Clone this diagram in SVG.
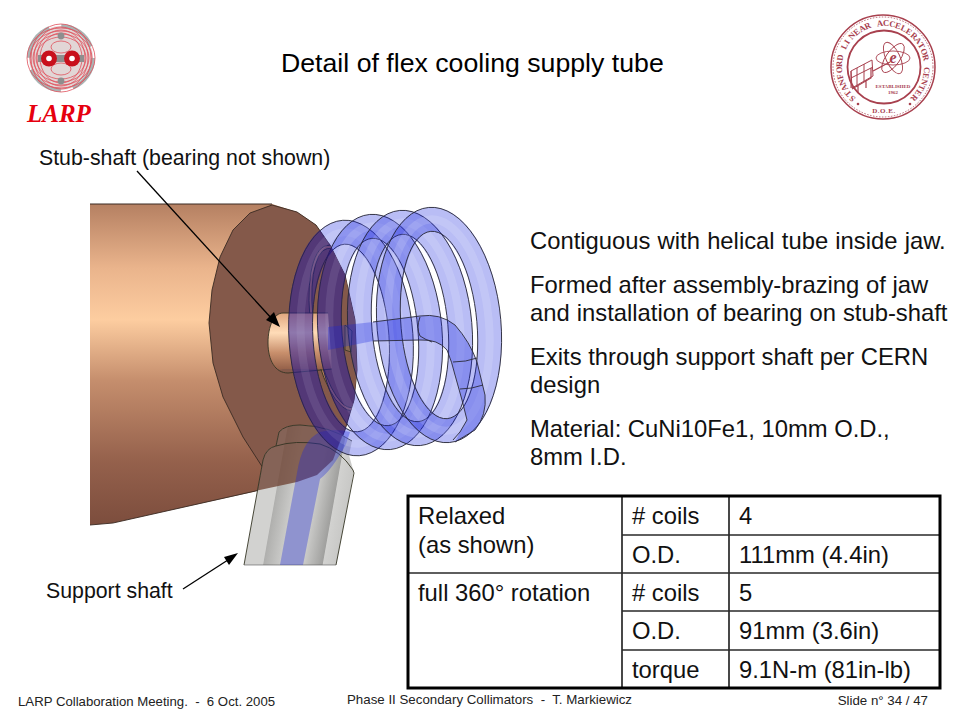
<svg xmlns="http://www.w3.org/2000/svg" xmlns:xlink="http://www.w3.org/1999/xlink" width="960" height="720" viewBox="0 0 960 720">
<style>
text{font-family:"Liberation Sans",Arial,sans-serif;fill:#000;white-space:pre}
.b{font-size:23.8px;fill:#111}
.l{font-size:21.3px;fill:#111}
.f{font-size:13.3px;fill:#222}
.o{fill:none;stroke:#2a2a3a;stroke-width:.9}
.tube{fill:none;stroke:#1824df;stroke-opacity:.3}
.hi{fill:none;stroke:#fff;stroke-opacity:.14;stroke-width:8}
.e{fill:none;stroke:#332;stroke-width:.9}
.sr{fill:none;stroke:#a8404e}
.c{fill:none;stroke:#e0505c;stroke-width:.8}
.grid{stroke:#2a2a2a;stroke-width:1.7;fill:none}
.seal{font-family:"Liberation Serif",serif;fill:#a8404e;font-weight:bold}
.dk{fill:none;stroke:#30107a;stroke-opacity:.3;stroke-width:24}
</style>
<defs>
<linearGradient id="cyl" gradientUnits="userSpaceOnUse" x1="0" y1="204" x2="0" y2="525">
<stop offset="0" stop-color="#b58062"/><stop offset=".2" stop-color="#eab48c"/><stop offset=".36" stop-color="#fdcda0"/><stop offset=".55" stop-color="#c58e6d"/><stop offset=".8" stop-color="#95614c"/><stop offset="1" stop-color="#7c4d3d"/>
</linearGradient>
<linearGradient id="stub" x1="0" y1="0" x2="0" y2="1">
<stop offset="0" stop-color="#e0a67e"/><stop offset=".35" stop-color="#ffdcb8"/><stop offset=".7" stop-color="#c88f6c"/><stop offset="1" stop-color="#946049"/>
</linearGradient>
<linearGradient id="sh" gradientUnits="userSpaceOnUse" x1="244" y1="0" x2="337" y2="0">
<stop offset="0" stop-color="#d2d2d0"/><stop offset=".2" stop-color="#d2d2d0"/><stop offset=".21" stop-color="#b0b0ae"/><stop offset=".39" stop-color="#cacac8"/><stop offset=".64" stop-color="#cacac8"/><stop offset=".84" stop-color="#a0a09e"/><stop offset=".85" stop-color="#d2d2d0"/><stop offset="1" stop-color="#c8c8c6"/>
</linearGradient>
<clipPath id="shaftClip"><path d="M244,565L263,460Q266,448 276,446L279,432Q285,425 300,425Q330,426 352,441L349,455L354,473L336,565Z"/></clipPath>
<clipPath id="diskClip"><path id="d" d="M272,205L250,213L233,230L220,257L212,290L209,323L213,363L223,397L243,437L263,468L271,487L297,482L317,475L333,460L345,430L354,400L357,370L355,320L345,275L330,245L316,225L297,212Z"/></clipPath>
<g id="coil">
<ellipse class="tube" rx="50" ry="106" stroke-width="24"/>
<ellipse class="hi" rx="50" ry="106"/>
<ellipse class="o" rx="62" ry="118"/>
<ellipse class="o" rx="38" ry="94"/>
</g>
</defs>
<rect width="960" height="720" fill="#fff"/>

<g id="logo-larp">
<circle cx="61" cy="58" r="32" fill="#e2d6d6" stroke="#a9b4b4" stroke-width="4" stroke-dasharray="38 12.300"/>
<ellipse class="c" cx="61" cy="58" rx="34" ry="30"/><ellipse class="c" cx="61" cy="58" rx="30" ry="34"/>
<ellipse class="c" cx="61" cy="58" rx="31" ry="27"/><ellipse class="c" cx="61" cy="58" rx="27" ry="31"/>
<ellipse class="c" cx="61" cy="58" rx="28" ry="24"/><ellipse class="c" cx="61" cy="58" rx="24" ry="28"/>
<ellipse class="c" cx="61" cy="58" rx="25" ry="21"/><ellipse class="c" cx="61" cy="58" rx="21" ry="25"/>
<ellipse class="c" cx="61" cy="47" rx="10" ry="6"/><ellipse class="c" cx="61" cy="69" rx="10" ry="6"/>
<circle cx="61" cy="36" r="3.400" fill="#8e8e8e"/><circle cx="61" cy="81" r="3.400" fill="#8e8e8e"/>
<rect x="38" y="55" width="46" height="7" fill="#8e8e8e"/>
<circle cx="49" cy="58.500" r="8" fill="#c8101c"/><circle cx="72" cy="58.500" r="8" fill="#c8101c"/>
<circle cx="49" cy="58.500" r="2.800" fill="#fff"/><circle cx="72" cy="58.500" r="2.800" fill="#fff"/>
<text x="27" y="122" style="font-family:'Liberation Serif',serif;font-weight:bold;font-style:italic;font-size:25px;fill:#e6000f">LARP</text>
</g>

<g id="logo-slac">
<circle class="sr" cx="883" cy="67" r="52" stroke-width="1.500"/>
<circle class="sr" cx="883" cy="67" r="50" stroke-width=".8" stroke-dasharray="1.500 1.500"/>
<circle class="sr" cx="884" cy="67" r="36.500" stroke-width="1.800"/>
<text class="seal" font-size="8.500" x="856.1 852 848.5 845.7 843.6 842.4 842 842.4 843.7 845.7 848.5 852 856.2 860.9 866 871.5 877.2 883 888.9 894.6 900 905.1 909.9 914 917.5 920.3 922.3 923.6 924 923.6 922.4 920.3 917.5 914" y="98 93.800 89.100 84 78.500 72.800 66.900 61.100 55.400 49.900 44.800 40.100 36 32.500 29.700 27.600 26.400 26 26.400 27.700 29.700 32.500 36 40.100 44.800 49.900 55.400 61.100 66.900 72.800 78.500 83.900 89.100 93.800" rotate="-139 -130.800 -122.600 -114.500 -106.300 -98.100 -89.900 -81.700 -73.600 -65.400 -57.200 -49 -40.800 -32.700 -24.500 -16.300 -8.100 0 8.200 16.400 24.500 32.700 40.900 49.100 57.200 65.400 73.600 81.700 89.900 98.100 106.300 114.400 122.600 130.800">STANFORD LINEAR ACCELERATOR CENTER</text>
<text class="seal" x="884" y="113" font-size="7" text-anchor="middle" letter-spacing=".5">D.O.E.</text>
<circle cx="858" cy="104" r="1.300" fill="#a8404e"/><circle cx="910" cy="104" r="1.300" fill="#a8404e"/>
<g transform="translate(893 58)">
<ellipse class="sr" rx="7" ry="17" stroke-width=".9" transform="rotate(-25)"/>
<ellipse class="sr" rx="7" ry="17" stroke-width=".9" transform="rotate(35)"/>
<ellipse class="sr" rx="7" ry="17" stroke-width=".9" transform="rotate(90)"/>
</g>
<text class="seal" x="893" y="63" font-size="16" font-style="italic" text-anchor="middle">e</text>
<path class="sr" stroke-width="1" d="M851,71L872,60L873,76L852,88ZM851,71V88M857,68V85M864,64V81M851,78L873,67"/>
<path class="sr" stroke-width="1.200" d="M852,89L871,78V68M858,85V93M866,80V88M873,71L890,62"/>
<text class="seal" x="893" y="88" font-size="5" text-anchor="middle">ESTABLISHED</text>
<text class="seal" x="893" y="94" font-size="5" text-anchor="middle">1962</text>
</g>

<text id="title" x="281" y="72" style="font-size:26.700px">Detail of flex cooling supply tube</text>

<g id="model">
<path d="M90,204H272L297,212L316,225L330,245L345,275L355,320L357,370L354,400L345,430L333,460L317,475L297,482L113,523L90,525Z" fill="url(#cyl)"/>
<path d="M90,525L113,523L260,490" fill="none" stroke="#3a2a22" stroke-width=".9"/>
<path d="M90,204H272" stroke="#3a2a22" stroke-width="1" fill="none"/>
<use xlink:href="#d" href="#d" fill="#84594a" stroke="#3a2a22" stroke-width=".9"/>
<g clip-path="url(#diskClip)">
<ellipse cx="340" cy="328" rx="27" ry="82" transform="rotate(-9 340 328)" fill="#84594a" stroke="#b98058" stroke-width="3"/>
<ellipse cx="340" cy="328" rx="28.500" ry="83.500" transform="rotate(-9 340 328)" class="e"/>
<ellipse cx="340" cy="328" rx="25.500" ry="80.500" transform="rotate(-9 340 328)" class="e"/>
</g>
<path d="M283,313H328L332,369H283C275,373 268,360 268,343C268,326 274,313 283,313Z" fill="url(#stub)"/>
<path d="M328,313H283C274,313 268,326 268,343C268,360 275,373 288,373L332,369" class="e"/>
<path d="M345,325L352,331L351,352L345,350Z" fill="#8a6a55" stroke="#332" stroke-width=".8"/>

<g id="shaft" clip-path="url(#shaftClip)">
<rect x="244" y="425" width="93" height="140" fill="url(#sh)" transform="translate(0 565) skewX(-10.080) translate(0 -565)"/>
<path d="M250,425H346L333,460L317,475L297,482L255,491Z" fill="#6f4434" fill-opacity=".78"/>
</g>
<path d="M244,565L263,460Q266,448 276,446Q295,440 320,444Q340,450 353,470L354,473L336,565" class="e"/>
<path d="M276,446L279,432Q285,425 300,425Q330,426 352,441" class="e"/>
<path d="M244,565H336" stroke="#555" stroke-width=".6"/>
<path d="M280,565L291,505L297,473Q302,440 320,432Q335,428 350,432L346,444Q332,470 320,479L303,565Z" fill="#1824df" fill-opacity=".33"/>

<use xlink:href="#coil" href="#coil" transform="translate(351 338) rotate(-4)"/>
<use xlink:href="#coil" href="#coil" transform="translate(380 332) rotate(-5)"/>
<use xlink:href="#coil" href="#coil" transform="translate(410 328) rotate(-5)"/>
<use xlink:href="#coil" href="#coil" transform="translate(439 325) rotate(-5)"/>
<g clip-path="url(#diskClip)">
<ellipse class="dk" rx="50" ry="106" transform="translate(351 338) rotate(-4)"/>
<ellipse class="dk" rx="50" ry="106" transform="translate(380 332) rotate(-5)"/>
</g>

<path d="M328,327L373,322L420,316Q440,313 455,325Q470,342 477,362L485,395Q487,415 475,430L455,442L460,432L467,420L462,400L455,375Q452,362 447,350Q438,339 420,340L373,341L328,350Z" fill="#1824df" fill-opacity=".3"/>
<path class="o" d="M373,322L420,316Q440,313 455,325Q470,342 477,362L485,395Q487,415 475,430L455,442"/>
<path class="o" d="M373,341L420,340Q438,339 447,350Q452,362 455,375L462,400L467,420L460,432L453,440"/>
<path class="o" d="M420,317Q416,328 420,336Q426,340 432,342M453,362Q466,362 477,358M460,389Q472,389 483,385"/>
</g>

<g id="connectors" fill="#000" stroke="#000">
<path d="M137,171L273,320" stroke-width="1.300" fill="none"/>
<path d="M280,327L266,320L274,312Z" stroke="none"/>
<path d="M183,589L231,558" stroke-width="1.300" fill="none"/>
<path d="M238,553L229,565L224,557Z" stroke="none"/>
</g>
<text class="l" x="39" y="165">Stub-shaft (bearing not shown)</text>
<text class="l" x="46" y="598">Support shaft</text>

<g id="notes">
<text class="b" x="530" y="249" word-spacing=".6">Contiguous with helical tube inside jaw.</text>
<text class="b" x="530" y="293">Formed after assembly-brazing of jaw</text>
<text class="b" x="530" y="321" word-spacing=".4">and installation of bearing on stub-shaft</text>
<text class="b" x="530" y="365">Exits through support shaft per CERN</text>
<text class="b" x="530" y="393">design</text>
<text class="b" x="530" y="437">Material: CuNi10Fe1, 10mm O.D.,</text>
<text class="b" x="530" y="465">8mm I.D.</text>
</g>

<g id="table">
<rect x="408" y="496" width="532" height="192" fill="#fff"/>
<path class="grid" d="M622,496V688M729,496V688M622,535H940M408,573H940M622,611H940M622,650H940"/>
<rect x="408" y="496" width="532" height="192" fill="none" stroke="#000" stroke-width="3"/>
<text class="b" x="418" y="524">Relaxed</text>
<text class="b" x="418" y="553">(as shown)</text>
<text class="b" x="632" y="524"># coils</text>
<text class="b" x="739" y="524">4</text>
<text class="b" x="632" y="563">O.D.</text>
<text class="b" x="739" y="563">111mm (4.4in)</text>
<text class="b" x="418" y="601">full 360° rotation</text>
<text class="b" x="632" y="601"># coils</text>
<text class="b" x="739" y="601">5</text>
<text class="b" x="632" y="639">O.D.</text>
<text class="b" x="739" y="639">91mm (3.6in)</text>
<text class="b" x="632" y="678">torque</text>
<text class="b" x="739" y="678">9.1N-m (81in-lb)</text>
</g>

<g id="footer">
<text class="f" x="18" y="706" style="font-size:13.200px">LARP Collaboration Meeting.  -  6 Oct. 2005</text>
<text class="f" x="347" y="704">Phase II Secondary Collimators  -  T. Markiewicz</text>
<text class="f" x="928" y="705" text-anchor="end">Slide n° 34 / 47</text>
</g>
</svg>
